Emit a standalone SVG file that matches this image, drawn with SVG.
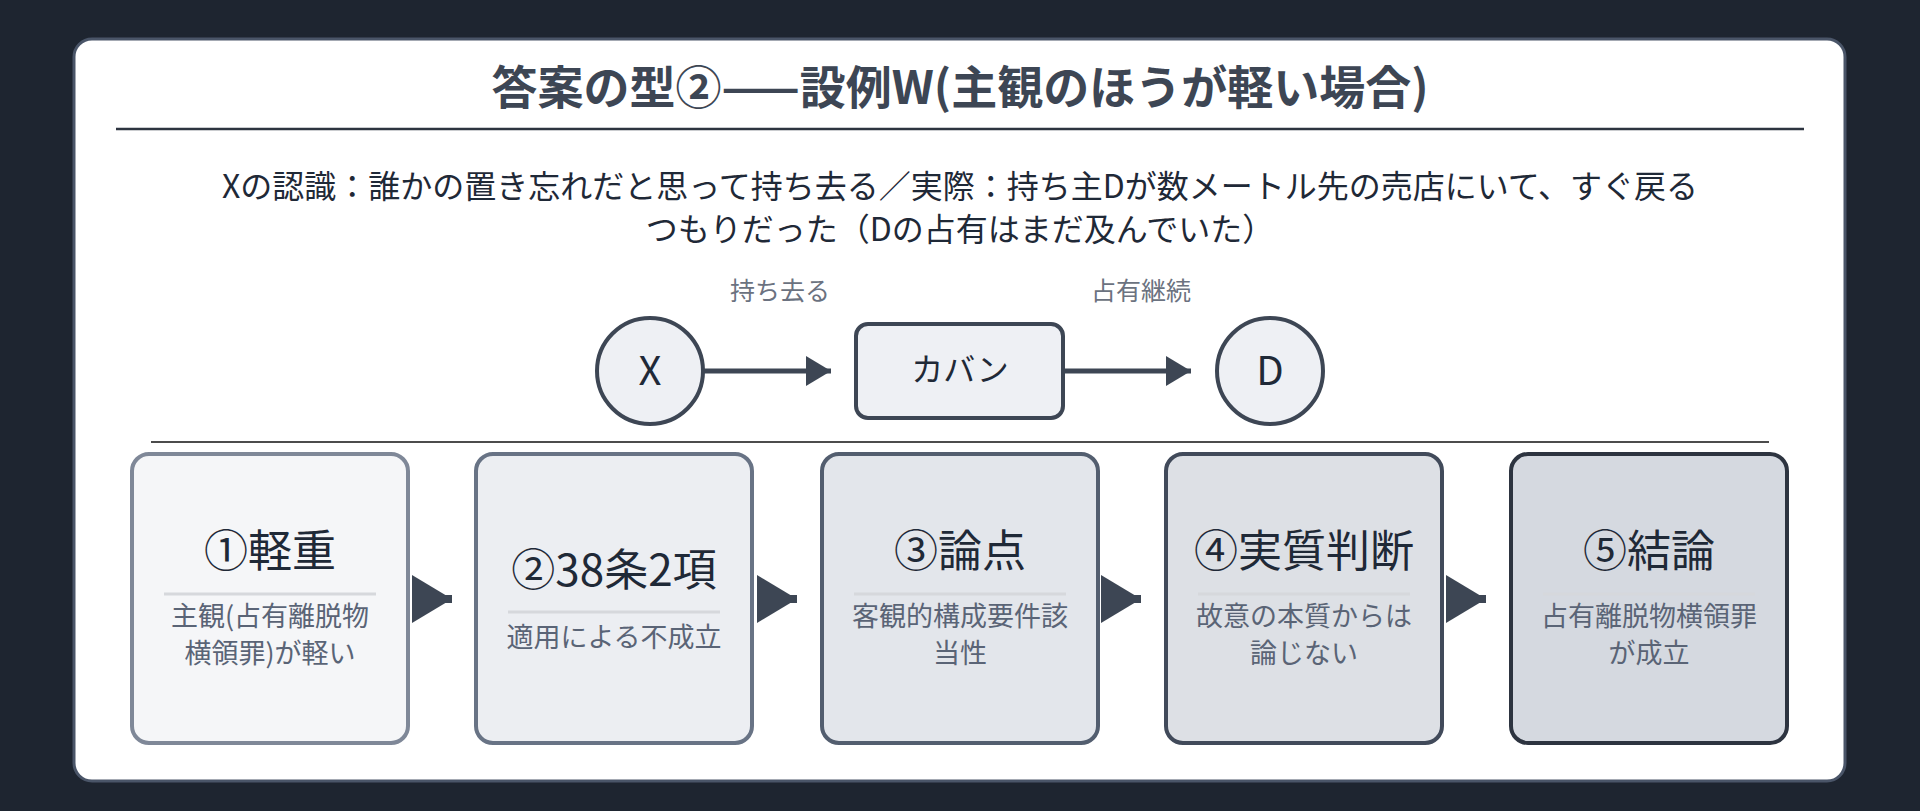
<svg xmlns="http://www.w3.org/2000/svg" width="1920" height="811" viewBox="0 0 1920 811">
<defs>
<style>
text{font-family:"Noto Sans CJK JP","Noto Sans",sans-serif;text-anchor:middle}
.t{font-size:44px;fill:#1f2937}
.s{font-size:27px;fill:#5a6476}
.dv{stroke:#d6d8dc;stroke-width:3}
.lb{font-size:25px;fill:#6b7280}
</style>
<marker id="ah" markerWidth="6" markerHeight="6" refX="5" refY="3" orient="auto" markerUnits="strokeWidth"><path d="M0,0 L5,3 L0,6 Z" fill="#3d4654"/></marker>
</defs>
<rect width="1920" height="811" fill="#1e2530"/>
<rect x="74" y="39" width="1771" height="742" rx="18" fill="#ffffff" stroke="#4a5568" stroke-width="3"/>
<text x="960" y="104" font-size="46" font-weight="bold" fill="#3d4654">答案の型②——設例W(主観のほうが軽い場合)</text>
<line x1="116" y1="129" x2="1804" y2="129" stroke="#2d3440" stroke-width="2.5"/>
<text x="960" y="198" font-size="32" fill="#1f2937">Xの認識：誰かの置き忘れだと思って持ち去る／実際：持ち主Dが数メートル先の売店にいて、すぐ戻る</text>
<text x="960" y="241" font-size="32" fill="#1f2937">つもりだった（Dの占有はまだ及んでいた）</text>
<g id="connectors">
<line x1="704" y1="371" x2="831" y2="371" stroke="#3d4654" stroke-width="5" marker-end="url(#ah)"/>
<line x1="1063" y1="371" x2="1191" y2="371" stroke="#3d4654" stroke-width="5" marker-end="url(#ah)"/>
<text class="lb" x="780" y="300">持ち去る</text>
<text class="lb" x="1141" y="300">占有継続</text>
<line x1="421" y1="599" x2="452" y2="599" stroke="#3d4654" stroke-width="8" marker-end="url(#ah)"/>
<line x1="766" y1="599" x2="797" y2="599" stroke="#3d4654" stroke-width="8" marker-end="url(#ah)"/>
<line x1="1110" y1="599" x2="1141" y2="599" stroke="#3d4654" stroke-width="8" marker-end="url(#ah)"/>
<line x1="1455" y1="599" x2="1486" y2="599" stroke="#3d4654" stroke-width="8" marker-end="url(#ah)"/>
</g>
<g id="nX"><circle cx="650" cy="371" r="53" fill="#eef0f4" stroke="#3d4654" stroke-width="4"/><text x="650" y="385" font-size="40" fill="#1f2937">X</text></g>
<g id="nBag"><rect x="856" y="324" width="207" height="94" rx="12" fill="#eef0f4" stroke="#3d4654" stroke-width="4"/><text x="960" y="381" font-size="32" fill="#1f2937">カバン</text></g>
<g id="nD"><circle cx="1270" cy="371" r="53" fill="#eef0f4" stroke="#3d4654" stroke-width="4"/><text x="1270" y="385" font-size="40" fill="#1f2937">D</text></g>
<line x1="151" y1="442" x2="1769" y2="442" stroke="#111" stroke-width="1.5"/>
<g id="s1"><rect x="132" y="454" width="276" height="289" rx="17" fill="#f5f6f8" stroke="#7f8898" stroke-width="4"/>
<text class="t" x="270" y="567">①軽重</text><line class="dv" x1="164" y1="594" x2="376" y2="594"/>
<text class="s" x="270" y="626">主観(占有離脱物</text><text class="s" x="270" y="663">横領罪)が軽い</text></g>
<g id="s2"><rect x="476" y="454" width="276" height="289" rx="17" fill="#eceef2" stroke="#687385" stroke-width="4"/>
<text class="t" x="614" y="586">②38条2項</text><line class="dv" x1="508" y1="612" x2="720" y2="612"/>
<text class="s" x="614" y="647">適用による不成立</text></g>
<g id="s3"><rect x="822" y="454" width="276" height="289" rx="17" fill="#e3e6eb" stroke="#535e6f" stroke-width="4"/>
<text class="t" x="960" y="567">③論点</text><line class="dv" x1="854" y1="594" x2="1066" y2="594"/>
<text class="s" x="960" y="626">客観的構成要件該</text><text class="s" x="960" y="663">当性</text></g>
<g id="s4"><rect x="1166" y="454" width="276" height="289" rx="17" fill="#dde0e5" stroke="#414a5a" stroke-width="4"/>
<text class="t" x="1304" y="567">④実質判断</text><line class="dv" x1="1198" y1="594" x2="1410" y2="594"/>
<text class="s" x="1304" y="626">故意の本質からは</text><text class="s" x="1304" y="663">論じない</text></g>
<g id="s5"><rect x="1511" y="454" width="276" height="289" rx="17" fill="#d5d9e0" stroke="#2d3440" stroke-width="4"/>
<text class="t" x="1649" y="567">⑤結論</text><line class="dv" x1="1543" y1="594" x2="1755" y2="594"/>
<text class="s" x="1649" y="626">占有離脱物横領罪</text><text class="s" x="1649" y="663">が成立</text></g>
</svg>
